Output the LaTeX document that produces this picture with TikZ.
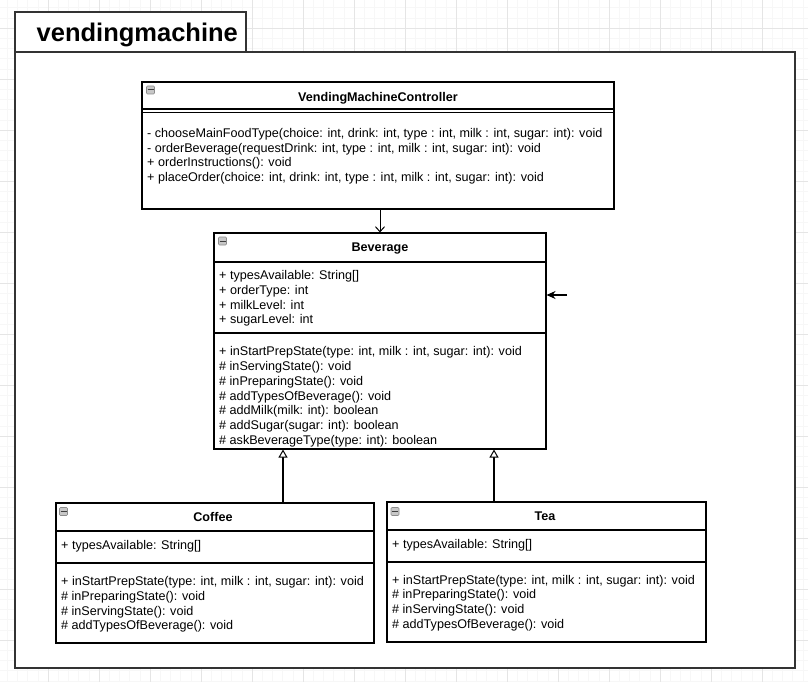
\documentclass[tikz,border=0pt]{standalone}
\usepackage{fontspec}
\setmainfont{Liberation Sans}
\usetikzlibrary{arrows.meta}
\begin{document}
\begin{tikzpicture}[x=1pt,y=-1pt,
  minorgrid/.style={draw=black!3, line width=0.5pt},
  majorgrid/.style={draw=black!10, line width=0.6pt},
  frameline/.style={draw=black!80, line width=1.4pt, fill=white},
  box/.style={draw=black, line width=1.1pt, fill=white, inner sep=0pt, rectangle},
  sep/.style={draw=black, line width=1.1pt},
  txt/.style={anchor=base west, inner sep=0pt, font=\fontsize{12.6}{14}\selectfont},
  ttl/.style={anchor=base, inner sep=0pt, font=\bfseries\fontsize{12.6}{14}\selectfont},
  icon/.style={draw=black!45, fill=black!22, rounded corners=1pt, minimum width=8pt, minimum height=8pt, inner sep=0pt, line width=0.6pt},
  dep/.style={draw=black, line width=1pt, -{Straight Barb[length=5pt,width=9pt,line width=1pt]}},
  self/.style={draw=black, line width=1.2pt, -{Stealth[length=9pt,width=8pt,inset=3pt]}},
  inh/.style={draw=black, line width=1.1pt, -{Triangle[open,length=8pt,width=9pt,line width=1pt,fill=white]}},
]
\useasboundingbox (0,0) rectangle (808,682);
\fill[white] (0,0) rectangle (808,682);
% grid
\foreach \i in {0,...,80} {
  \draw[minorgrid] ({-3+10.2*\i},0) -- ({-3+10.2*\i},682);
}
\foreach \i in {0,...,68} {
  \draw[minorgrid] (0,{-2.6+10.2*\i}) -- (808,{-2.6+10.2*\i});
}
\foreach \i in {0,...,16} {
  \draw[majorgrid] ({-3+51*\i},0) -- ({-3+51*\i},682);
}
\foreach \i in {0,...,13} {
  \draw[majorgrid] (0,{-23+51*\i}) -- (808,{-23+51*\i});
}
% package frame
\path[frameline] (15,52) rectangle (795,668);
\path[frameline] (15,12) rectangle (246,52);
\node[anchor=base west, inner sep=0pt, font=\bfseries\fontsize{25.5}{30}\selectfont] (pkg) at (36.5,42) {vendingmachine};

% VendingMachineController
\node[box, minimum width=472pt, minimum height=127pt] (ctrl) at (378,145.5) {};
\node[icon] (ctrlicon) at (150.5,90) {};
\draw[black!75, line width=1pt] (147.5,90) -- (153.5,90);
\draw[sep] (142,109) -- (614,109);
\draw[sep] (142,112.5) -- (614,112.5);
\node[ttl] (ctrlt) at (378,101.5) {VendingMachineController};
\node[txt] (c1) at (147,137.5) {- chooseMainFoodType(choice: int, drink: int, type : int, milk : int, sugar: int): void};
\node[txt] (c2) at (147,152) {- orderBeverage(requestDrink: int, type : int, milk : int, sugar: int): void};
\node[txt] (c3) at (147,166.8) {+ orderInstructions(): void};
\node[txt] (c4) at (147,181.5) {+ placeOrder(choice: int, drink: int, type : int, milk : int, sugar: int): void};

% Beverage
\node[box, minimum width=332pt, minimum height=216pt] (bev) at (380,341) {};
\node[icon] (bevicon) at (222.5,241) {};
\draw[black!75, line width=1pt] (219.5,241) -- (225.5,241);
\draw[sep] (214,262) -- (546,262);
\draw[sep] (214,333) -- (546,333);
\node[ttl] (bevt) at (380,251.5) {Beverage};
\node[txt] (ba1) at (219,279) {+ typesAvailable: String[]};
\node[txt] (ba2) at (219,294) {+ orderType: int};
\node[txt] (ba3) at (219,309) {+ milkLevel: int};
\node[txt] (ba4) at (219,323.5) {+ sugarLevel: int};
\node[txt] (bm1) at (219,355.7) {+ inStartPrepState(type: int, milk : int, sugar: int): void};
\node[txt] (bm2) at (219,370.5) {\# inServingState(): void};
\node[txt] (bm3) at (219,385.3) {\# inPreparingState(): void};
\node[txt] (bm4) at (219,400) {\# addTypesOfBeverage(): void};
\node[txt] (bm5) at (219,414.8) {\# addMilk(milk: int): boolean};
\node[txt] (bm6) at (219,429.5) {\# addSugar(sugar: int): boolean};
\node[txt] (bm7) at (219,444.3) {\# askBeverageType(type: int): boolean};

% Coffee
\node[box, minimum width=318pt, minimum height=140pt] (coffee) at (215,573) {};
\node[icon] (coficon) at (63.5,511.5) {};
\draw[black!75, line width=1pt] (60.5,511.5) -- (66.5,511.5);
\draw[sep] (56,531) -- (374,531);
\draw[sep] (56,563) -- (374,563);
\node[ttl] (coft) at (213,521.5) {Coffee};
\node[txt] (ca1) at (61,549.3) {+ typesAvailable: String[]};
\node[txt] (cm1) at (61,585.7) {+ inStartPrepState(type: int, milk : int, sugar: int): void};
\node[txt] (cm2) at (61,600.3) {\# inPreparingState(): void};
\node[txt] (cm3) at (61,615) {\# inServingState(): void};
\node[txt] (cm4) at (61,629.5) {\# addTypesOfBeverage(): void};

% Tea
\node[box, minimum width=319pt, minimum height=140pt] (tea) at (546.5,572) {};
\node[icon] (teaicon) at (395,511.5) {};
\draw[black!75, line width=1pt] (392,511.5) -- (398,511.5);
\draw[sep] (387,530) -- (706,530);
\draw[sep] (387,562) -- (706,562);
\node[ttl] (teat) at (545,520.8) {Tea};
\node[txt] (ta1) at (392,548.3) {+ typesAvailable: String[]};
\node[txt] (tm1) at (392,584.3) {+ inStartPrepState(type: int, milk : int, sugar: int): void};
\node[txt] (tm2) at (392,598.6) {\# inPreparingState(): void};
\node[txt] (tm3) at (392,613.5) {\# inServingState(): void};
\node[txt] (tm4) at (392,628.5) {\# addTypesOfBeverage(): void};

% connectors
\path[dep] (bev.north |- ctrl.south) -- (bev.north);
\coordinate (selfstart) at (567,295);
\path[self] (selfstart) -- (bev.east |- selfstart);
\coordinate (cx) at (283,0);
\coordinate (tx) at (494,0);
\path[inh] (coffee.north -| cx) -- (bev.south -| cx);
\path[inh] (tea.north -| tx) -- (bev.south -| tx);
\end{tikzpicture}
\end{document}
